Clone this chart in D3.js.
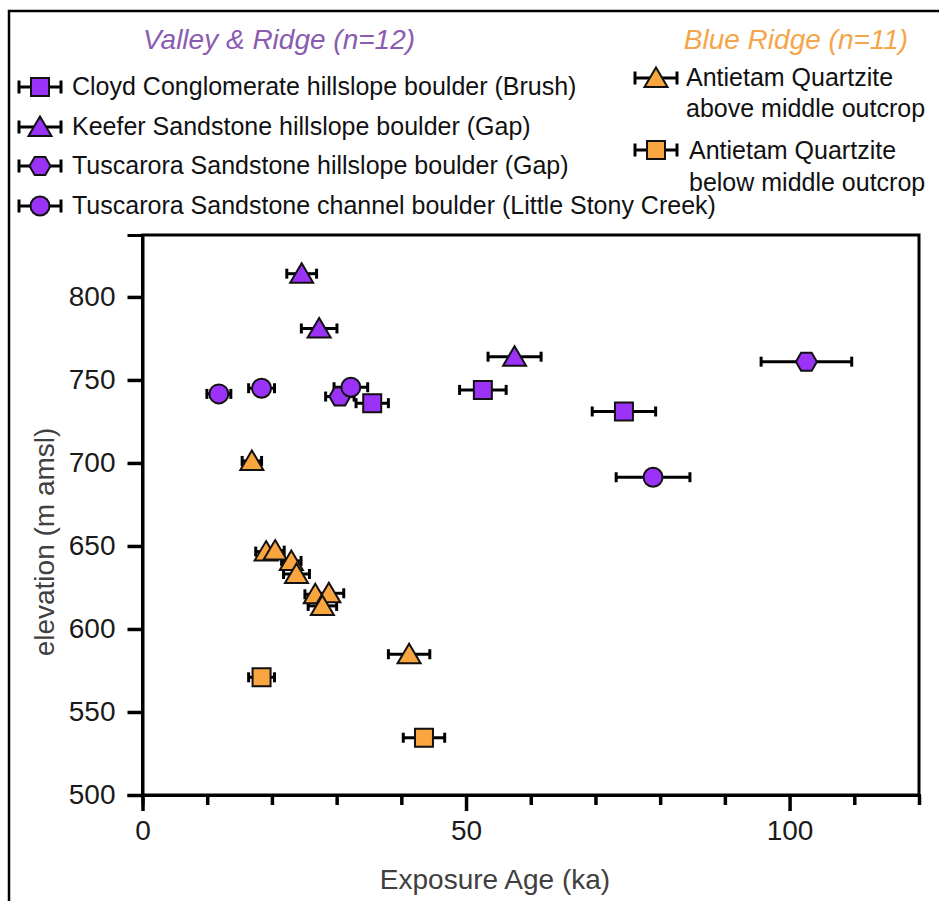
<!DOCTYPE html>
<html>
<head>
<meta charset="utf-8">
<script src="https://cdn.jsdelivr.net/npm/d3@7"></script>
<style>
  body { margin: 0; background: #fff; }
  text { font-family: "Liberation Sans", Arial, sans-serif; }
</style>
</head>
<body>
<div id="chart"></div>
<script>
// Valley & Ridge samples (exposure age ka, elevation m, 1-sigma age error)
const cloydAge = [52.6, 35.5, 74.4];
const cloydElev = [744, 736, 731];
const cloydErr = [3.6, 2.5, 4.9];

const keeferAge = [24.6, 27.3, 57.5];
const keeferElev = [814, 781, 764];
const keeferErr = [2.3, 2.75, 4.1];

const tuscHillAge = [30.5, 102.6];
const tuscHillElev = [740, 761];
const tuscHillErr = [2.2, 7.0];

const tuscChanAge = [11.8, 18.4, 32.2, 78.9];
const tuscChanElev = [741.6, 745, 745.6, 691.4];
const tuscChanErr = [1.85, 2.0, 2.6, 5.7];

// Blue Ridge samples
const antAboveAge = [16.9, 19.1, 20.5, 23.0, 23.8, 26.7, 28.8, 27.8, 41.2];
const antAboveElev = [701.2, 646.6, 647.2, 641.0, 633.1, 620.9, 621.5, 613.9, 584.8];
const antAboveErr = [1.5, 1.6, 1.4, 1.5, 2.0, 1.6, 2.3, 2.2, 3.2];

const antBelowAge = [18.4, 43.5];
const antBelowElev = [570.9, 534.5];
const antBelowErr = [2.0, 3.2];

const xTicks = [0, 10, 20, 30, 40, 50, 60, 70, 80, 90, 100, 110, 120];
const xLabelTicks = [0, 50, 100];
const yTicks = [500, 550, 600, 650, 700, 750, 800];

const purple = '#9a32f7';
const orange = '#f9a640';

const series = [
    { name: 'Cloyd Conglomerate hillslope boulder (Brush)', shape: 'square', color: purple, age: cloydAge, elev: cloydElev, err: cloydErr },
    { name: 'Keefer Sandstone hillslope boulder (Gap)', shape: 'triangle', color: purple, age: keeferAge, elev: keeferElev, err: keeferErr },
    { name: 'Tuscarora Sandstone hillslope boulder (Gap)', shape: 'hexagon', color: purple, age: tuscHillAge, elev: tuscHillElev, err: tuscHillErr },
    { name: 'Tuscarora Sandstone channel boulder (Little Stony Creek)', shape: 'circle', color: purple, age: tuscChanAge, elev: tuscChanElev, err: tuscChanErr },
    { name: ['Antietam Quartzite', 'above middle outcrop'], shape: 'triangle', color: orange, age: antAboveAge, elev: antAboveElev, err: antAboveErr },
    { name: ['Antietam Quartzite', 'below middle outcrop'], shape: 'square', color: orange, age: antBelowAge, elev: antBelowElev, err: antBelowErr }
];

const width = 939;
const height = 901;
const plot = { left: 142.5, right: 919, top: 235, bottom: 795 };

const svg = d3.select('#chart')
    .append('svg')
    .attr('width', width)
    .attr('height', height)
    .attr('viewBox', [0, 0, width, height]);

// outer frame (runs off the right and bottom edge)
svg.append('rect')
    .attr('x', 9).attr('y', 11)
    .attr('width', 1000).attr('height', 1000)
    .attr('fill', 'none')
    .attr('stroke', '#000')
    .attr('stroke-width', 2.5);

const x = d3.scaleLinear()
    .domain([0, 120])
    .range([plot.left, plot.right]);

const y = d3.scaleLinear()
    .domain([500, 837.3])
    .range([plot.bottom, plot.top]);

// marker shapes
function shapePath(kind) {
    if (kind === 'square') return 'M-9,-9H9V9H-9Z';
    if (kind === 'triangle') return 'M0,-10.5L11.5,9L-11.5,9Z';
    if (kind === 'hexagon') return 'M-10.5,0L-5.3,-9H5.3L10.5,0L5.3,9H-5.3Z';
    return d3.symbol().type(d3.symbolCircle).size(Math.PI * 9.5 * 9.5)();
}

function errorBar(g, x0, x1, cy, capH) {
    g.append('line')
        .attr('x1', x0).attr('x2', x1).attr('y1', cy).attr('y2', cy);
    [x0, x1].forEach(cx => {
        g.append('line')
            .attr('x1', cx).attr('x2', cx)
            .attr('y1', cy - capH / 2).attr('y2', cy + capH / 2);
    });
}

// plot frame
svg.append('rect')
    .attr('x', plot.left).attr('y', plot.top)
    .attr('width', plot.right - plot.left)
    .attr('height', plot.bottom - plot.top)
    .attr('fill', 'none')
    .attr('stroke', '#000')
    .attr('stroke-width', 3);

// X axis
const xAxis = svg.append('g')
    .attr('transform', `translate(0,${plot.bottom})`)
    .call(d3.axisBottom(x)
        .tickValues(xTicks)
        .tickSize(10)
        .tickPadding(15)
        .tickFormat(d => xLabelTicks.includes(d) ? d : ''));
xAxis.select('.domain').attr('stroke-width', 3);
xAxis.selectAll('.tick line')
    .attr('stroke-width', 3.5)
    .attr('y2', d => xLabelTicks.includes(d) ? 16 : 10);
xAxis.selectAll('.tick text')
    .attr('font-size', 28)
    .attr('fill', '#1a1a1a');

// Y axis
const yAxis = svg.append('g')
    .attr('transform', `translate(${plot.left},0)`)
    .call(d3.axisLeft(y)
        .tickValues(yTicks)
        .tickSize(15)
        .tickPadding(12));
yAxis.select('.domain').attr('stroke-width', 3);
yAxis.selectAll('.tick line').attr('stroke-width', 3.5);
yAxis.selectAll('.tick text')
    .attr('font-size', 28)
    .attr('fill', '#1a1a1a');

// axis titles
svg.append('text')
    .attr('x', 495).attr('y', 889)
    .attr('text-anchor', 'middle')
    .attr('font-size', 28)
    .attr('fill', '#404040')
    .text('Exposure Age (ka)');

svg.append('text')
    .attr('transform', 'translate(54,542) rotate(-90)')
    .attr('text-anchor', 'middle')
    .attr('font-size', 28)
    .attr('fill', '#404040')
    .text('elevation (m amsl)');

// error bars, then markers
const bars = svg.append('g')
    .attr('stroke', '#000')
    .attr('stroke-width', 3);
series.forEach(s => {
    s.age.forEach((a, i) => {
        errorBar(bars, x(a - s.err[i]), x(a + s.err[i]), y(s.elev[i]), 10);
    });
});

const marks = svg.append('g');
series.forEach(s => {
    marks.selectAll(null)
        .data(d3.range(s.age.length))
        .join('path')
        .attr('d', shapePath(s.shape))
        .attr('transform', i => `translate(${x(s.age[i])},${y(s.elev[i])})`)
        .attr('fill', s.color)
        .attr('stroke', '#111')
        .attr('stroke-width', 2);
});

// group titles
svg.append('text')
    .attr('x', 279).attr('y', 49)
    .attr('text-anchor', 'middle')
    .attr('font-size', 28)
    .attr('font-style', 'italic')
    .attr('fill', '#8a5bb0')
    .text('Valley & Ridge (n=12)');

svg.append('text')
    .attr('x', 796).attr('y', 49)
    .attr('text-anchor', 'middle')
    .attr('font-size', 28)
    .attr('font-style', 'italic')
    .attr('fill', '#f5a54a')
    .text('Blue Ridge (n=11)');

// legend
const legendPos = [
    { mx: 40, my: 87, tx: 72, ty: [95] },
    { mx: 40, my: 127, tx: 72, ty: [135] },
    { mx: 40, my: 166, tx: 72, ty: [174] },
    { mx: 40, my: 206, tx: 72, ty: [214] },
    { mx: 656, my: 78, tx: 686, ty: [86, 117] },
    { mx: 656, my: 150, tx: 689, ty: [159, 191] }
];

const legend = svg.append('g');
series.forEach((s, k) => {
    const p = legendPos[k];
    const g = legend.append('g');
    const eb = g.append('g').attr('stroke', '#000').attr('stroke-width', 3);
    errorBar(eb, p.mx - 21, p.mx + 21, p.my, 13);
    g.append('path')
        .attr('d', shapePath(s.shape))
        .attr('transform', `translate(${p.mx},${p.my})`)
        .attr('fill', s.color)
        .attr('stroke', '#111')
        .attr('stroke-width', 2);
    const lines = Array.isArray(s.name) ? s.name : [s.name];
    lines.forEach((t, j) => {
        g.append('text')
            .attr('x', p.tx + (j > 0 && k === 4 ? 0 : 0))
            .attr('y', p.ty[j])
            .attr('font-size', 25)
            .attr('fill', '#111')
            .text(t);
    });
});

svg.node();
</script>
</body>
</html>
